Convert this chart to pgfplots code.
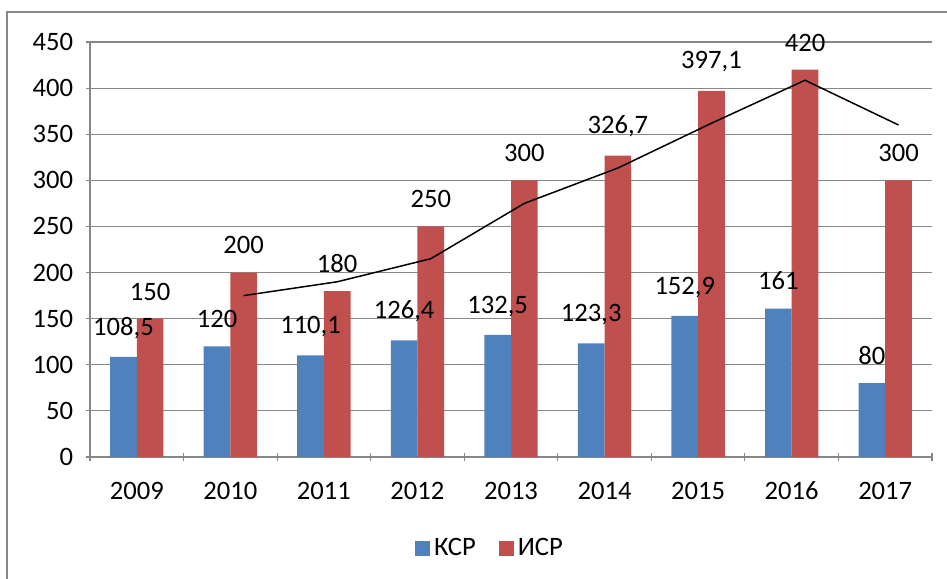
\documentclass[border=0pt]{standalone}
\usepackage{pgfplots}
\pgfplotsset{compat=1.18}
\usepackage{fontspec}
\setmainfont{Carlito}
\definecolor{ksr}{HTML}{4F81BD}
\definecolor{isr}{HTML}{C0504D}
\definecolor{gridg}{HTML}{878787}
\begin{document}
\begin{tikzpicture}
\useasboundingbox (-45pt,-60.5pt) rectangle (428.5pt,228.5pt);
\draw[gridg, line width=1pt] (-41.5pt,-70pt) -- (-41.5pt,222.5pt) -- (440pt,222.5pt);
\begin{axis}[
  scale only axis, width=421pt, height=207.5pt,
  font=\fontsize{13.3}{16}\selectfont,
  xmin=-0.5, xmax=8.5, ymin=0, ymax=450,
  ytick={0,50,...,450},
  xtick={0,...,8},
  xticklabels={2009,2010,2011,2012,2013,2014,2015,2016,2017},
  minor xtick={-0.5,0.5,...,8.5},
  major x tick style={draw=none},
  minor tick length=4pt,
  major tick length=4.5pt,
  tick align=outside,
  axis lines=left,
  axis line style={draw=gridg, line width=0.6pt, -},
  tick style={draw=gridg, line width=0.6pt},
  ymajorgrids,
  grid style={draw=gridg, line width=0.6pt},
  /pgf/number format/assume math mode=true,
  /pgf/number format/use comma,
  /pgf/number format/1000 sep={},
  yticklabel style={anchor=east, inner sep=0pt, xshift=-6pt, text height=8.5pt, text depth=0pt},
  xticklabel style={anchor=north, inner sep=0pt, yshift=-10.5pt, text height=8.5pt, text depth=0pt},
  legend style={at={(0.4762,0)}, anchor=center, yshift=-45.5pt, draw=none, fill=none,
    legend columns=2, /tikz/every even column/.style={column sep=9.5pt},
    font=\fontsize{13.3}{16}\selectfont},
  legend image code/.code={\fill[#1] (0pt,-3.75pt) rectangle (7.5pt,3.75pt);},
  legend cell align=left,
]
\addplot[ybar, bar width=0.285, bar shift=0pt, fill=ksr, draw=none,
  nodes near coords, every node near coord/.append style={anchor=south, inner sep=0pt, yshift=9pt, text=black, font=\fontsize{13.3}{16}\selectfont}]
  coordinates {(-0.1425,108.5) (0.8575,120) (1.8575,110.1) (2.8575,126.4) (3.8575,132.5) (4.8575,123.3) (5.8575,152.9) (6.8575,161) (7.8575,80)};
\addlegendentry{КСР}
\addplot[ybar, bar width=0.285, bar shift=0pt, fill=isr, draw=none,
  nodes near coords, every node near coord/.append style={anchor=south, inner sep=0pt, yshift=9pt, text=black, font=\fontsize{13.3}{16}\selectfont}]
  coordinates {(0.1425,150) (1.1425,200) (2.1425,180) (3.1425,250) (4.1425,300) (5.1425,326.7) (6.1425,397.1) (7.1425,420) (8.1425,300)};
\addlegendentry{ИСР}
\addplot[black, line width=0.75pt, mark=none, forget plot]
  coordinates {(1.1425,175) (2.1425,190) (3.1425,215) (4.1425,275) (5.1425,313.35) (6.1425,361.9) (7.1425,408.55) (8.1425,360)};
\end{axis}
\end{tikzpicture}
\end{document}
